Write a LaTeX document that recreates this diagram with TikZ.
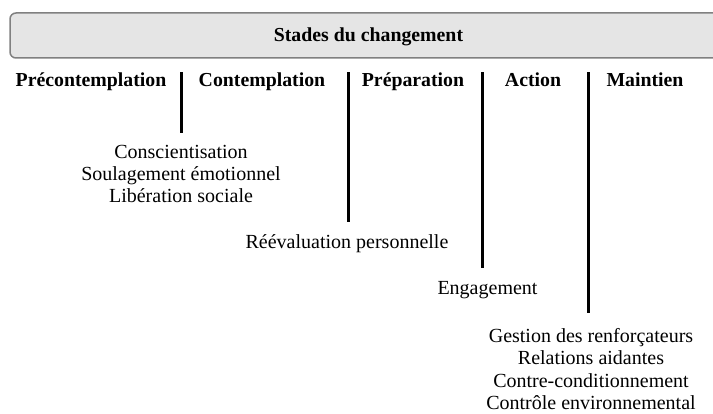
\documentclass[tikz,border=0pt]{standalone}
\usepackage{fontspec}
\setmainfont{Liberation Serif}
\usetikzlibrary{positioning}
\tikzset {
    banner/.style = {draw = gray, line width = 1.5pt, fill = gray!20, rounded corners = 6pt},
    stage/.style = {font = \fontsize{19.8}{22}\selectfont\bfseries, inner sep = 0pt, anchor = base},
    process/.style = {font = \fontsize{20}{22.2}\selectfont, align = center, inner sep = 0pt},
    divider/.style = {line width = 3pt},
}
\begin{document}
\begin{tikzpicture}[x = 1pt, y = -1pt]
    \clip (0, 0) rectangle (713, 414);
    \draw [banner] (10, 13) rectangle (740, 58);
    \node (title) [stage] at (368.5, 42) {Stades du changement};
    % stades
    \node (precontemplation) [stage] at (91, 87) {Précontemplation};
    \node (contemplation) [stage] at (262, 87) {Contemplation};
    \node (preparation) [stage] at (413, 87) {Préparation};
    \node (action) [stage] at (533, 87) {Action};
    \node (maintien) [stage] at (645, 87) {Maintien};
    % separateurs
    \coordinate (sep1 top) at (181, 72.5);
    \coordinate (sep1 bottom) at (181, 133);
    \coordinate (sep2 top) at (348, 72.5);
    \coordinate (sep2 bottom) at (348, 222);
    \coordinate (sep3 top) at (482.5, 72.5);
    \coordinate (sep3 bottom) at (482.5, 268);
    \coordinate (sep4 top) at (588, 72.5);
    \coordinate (sep4 bottom) at (588, 313);
    \draw [divider] (sep1 top) -- (sep1 bottom);
    \draw [divider] (sep2 top) -- (sep2 bottom);
    \draw [divider] (sep3 top) -- (sep3 bottom);
    \draw [divider] (sep4 top) -- (sep4 bottom);
    % processus
    \node (prise) [process] at (181, 174) {Conscientisation\\Soulagement émotionnel\\Libération sociale};
    \node (reevaluation) [process, anchor = base] at (347, 249) {Réévaluation personnelle};
    \node (engagement) [process, anchor = base] at (487.5, 295) {Engagement};
    \node (gestion) [process] at (591, 369) {Gestion des renforçateurs\\Relations aidantes\\Contre-conditionnement\\Contrôle environnemental};
\end{tikzpicture}
\end{document}
